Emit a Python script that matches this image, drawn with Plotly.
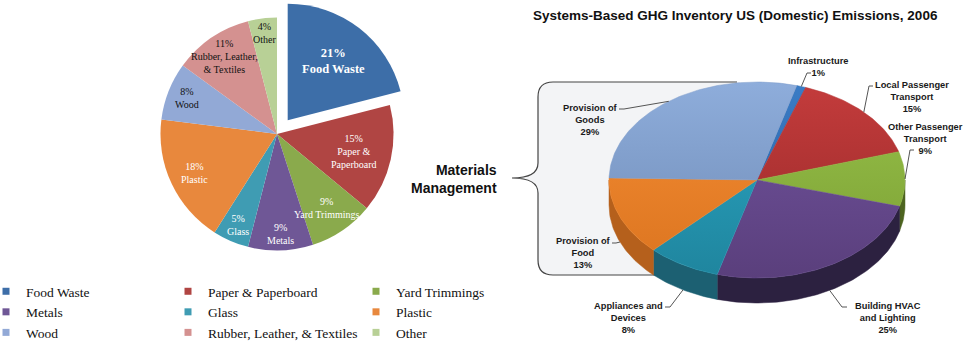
import math
import plotly.graph_objects as go

W, H = 964, 341

# ---------------- data: left chart (MSW composition) ----------------
waste_labels = ["Food Waste", "Paper & Paperboard", "Yard Trimmings",
                "Metals", "Glass", "Plastic",
                "Wood", "Rubber, Leather, & Textiles", "Other"]
waste_pct = [21, 15, 9, 9, 5, 18, 8, 11, 4]
waste_inner_text = ["Food Waste", "Paper &<br>Paperboard", "Yard Trimmings",
                    "Metals", "Glass", "Plastic",
                    "Wood", "Rubber, Leather,<br>& Textiles", "Other"]

# ---------------- data: right chart (GHG inventory) ----------------
ghg_labels = ["Infrastructure", "Local Passenger Transport", "Other Passenger Transport",
              "Building HVAC and Lighting", "Appliances and Devices",
              "Provision of Food", "Provision of Goods"]
ghg_pct = [1, 15, 9, 25, 8, 13, 29]
ghg_text = ["Infrastructure", "Local Passenger<br>Transport", "Other Passenger<br>Transport",
            "Building HVAC<br>and Lighting", "Appliances and<br>Devices",
            "Provision of<br>Food", "Provision of<br>Goods"]

# ---------------- styles ----------------
waste_colors = ["#3d6ea8", "#b04543", "#8aaa4c", "#6f5796", "#3f9cb3",
                "#e8883d", "#92a9d6", "#d49190", "#b8d096"]
waste_text_colors = ["white", "white", "white", "white", "white", "white",
                     "#111111", "#111111", "#111111"]
waste_label_rfrac = [0.64, 0.68, 0.77, 0.86, 0.85, 0.78, 0.83, 0.80, 0.87]

ghg_top_colors = ["#2f6db5", "#b33232", "#8cb43e", "#674a8e", "#2598b4", "#ef8227", "#7f9dcb"]
ghg_top_light = ["#3a7cc6", "#c43c3c", "#98c24a", "#7254a0", "#2ba7c4", "#f58d34", "#8eaddb"]
ghg_top_dark = ["#275e9e", "#962828", "#7a9e33", "#5a3f7c", "#1f859e", "#db741f", "#6e8ab5"]
ghg_side_colors = ["#1d4576", "#6e1d1d", "#4d6420", "#2c2140", "#1c6072", "#b5601c", "#4d6590"]
ghg_label_pos = [(818, 67), (912, 97), (925, 139), (888, 318), (628, 318), (583, 253), (590, 120)]
ghg_leader_stub = [((811, 73), (807, 73)), ((873, 86), (869, 86)), ((914, 150), (910, 150)),
                   ((847, 307), (842, 307)), ((665, 307), (670, 307)),
                   ((612, 243), (616, 243)), ((619, 109), (624, 109))]

SERIF = "Liberation Serif, Times New Roman, serif"
SANS = "Liberation Sans, Arial, sans-serif"

fig = go.Figure()

# ---------------- left pie ----------------
PIE_DOM_X = [143 / W, 411 / W]
PIE_DOM_Y = [73 / H, 1.0]
PULL = 0.15
pulls = [PULL] + [0] * (len(waste_pct) - 1)

fig.add_trace(go.Pie(
    labels=waste_labels, values=waste_pct, sort=False, direction="clockwise",
    rotation=0, pull=pulls, textinfo="none", showlegend=False,
    marker=dict(colors=waste_colors, line=dict(width=0)),
    domain=dict(x=PIE_DOM_X, y=PIE_DOM_Y), hoverinfo="label+percent",
))

cxp = (PIE_DOM_X[0] + PIE_DOM_X[1]) / 2 * W
cyp = H - (PIE_DOM_Y[0] + PIE_DOM_Y[1]) / 2 * H
Rmax = min((PIE_DOM_X[1] - PIE_DOM_X[0]) * W, (PIE_DOM_Y[1] - PIE_DOM_Y[0]) * H) / 2
rp = Rmax / (1 + PULL)

annotations = []
total = sum(waste_pct)
cum = 0
for i, v in enumerate(waste_pct):
    mid = (cum + v / 2) / total * 2 * math.pi
    cum += v
    ox = pulls[i] * rp * math.sin(mid)
    oy = -pulls[i] * rp * math.cos(mid)
    lx = cxp + ox + waste_label_rfrac[i] * rp * math.sin(mid)
    ly = cyp + oy - waste_label_rfrac[i] * rp * math.cos(mid)
    if i == 0:
        txt = f"<b>{v}%<br>{waste_inner_text[i]}</b>"
        fs = 12.5
    else:
        txt = f"{v}%<br>{waste_inner_text[i]}"
        fs = 10
    annotations.append(dict(
        x=lx / W, y=1 - ly / H, xref="paper", yref="paper", text=txt, showarrow=False,
        xanchor="center", yanchor="middle", align="center",
        font=dict(family=SERIF, size=fs, color=waste_text_colors[i]),
    ))

# legend entries (three column legends, row-wise order)
for i, (lab, col) in enumerate(zip(waste_labels, waste_colors)):
    fig.add_trace(go.Scatter(
        x=[None], y=[None], mode="markers", name=lab,
        marker=dict(symbol="square", size=7, color=col),
        legend=["legend", "legend2", "legend3"][i % 3], showlegend=True, hoverinfo="skip",
    ))

# ---------------- right 3D pie (drawn on pixel-unit axes) ----------------
CX, CY, RX, RY, DEPTH, START = 757, 180, 148, 98, 25, 15.6


def ell(t_deg, dy=0.0):
    t = math.radians(t_deg)
    return CX + RX * math.sin(t), CY - RY * math.cos(t) + dy


gtotal = sum(ghg_pct)
angles = []
a = START
for v in ghg_pct:
    b = a + v / gtotal * 360.0
    angles.append((a, b))
    a = b

# side walls (front half only)
for i, (a, b) in enumerate(angles):
    lo, hi = max(a, 90.0), min(b, 270.0)
    if hi <= lo:
        continue
    n = max(2, int((hi - lo) / 1.0) + 1)
    ts = [lo + (hi - lo) * k / (n - 1) for k in range(n)]
    top = [ell(t) for t in ts]
    bot = [ell(t, DEPTH) for t in reversed(ts)]
    pts = top + bot + [top[0]]
    fig.add_trace(go.Scatter(
        x=[p[0] for p in pts], y=[p[1] for p in pts], mode="lines", fill="toself",
        fillcolor=ghg_side_colors[i], line=dict(color=ghg_side_colors[i], width=0.5),
        showlegend=False, hoverinfo="skip",
    ))

# top faces
for i, (a, b) in enumerate(angles):
    n = max(2, int((b - a) / 1.0) + 1)
    ts = [a + (b - a) * k / (n - 1) for k in range(n)]
    arc = [ell(t) for t in ts]
    pts = [(CX, CY)] + arc + [(CX, CY)]
    fig.add_trace(go.Scatter(
        x=[p[0] for p in pts], y=[p[1] for p in pts], mode="lines", fill="toself",
        fillcolor=ghg_top_colors[i],
        fillgradient=dict(type="vertical", start=CY - RY, stop=CY + RY,
                          colorscale=[[0, ghg_top_light[i]], [1, ghg_top_dark[i]]]),
        line=dict(color=ghg_top_colors[i], width=0.5),
        name=ghg_labels[i], showlegend=False,
        hovertemplate=f"{ghg_labels[i]}: {ghg_pct[i]}%<extra></extra>",
    ))

shapes = []
# bracket region (behind the pie)
brace = ("M 737,82 L 553,82 Q 538,82 538,97 L 538,163 Q 538,178 512,178 "
         "Q 538,178 538,193 L 538,260 Q 538,275 553,275 L 655,275")
shapes.append(dict(type="path", path=brace + " Z", xref="x", yref="y", layer="below",
                   fillcolor="#f3f4f6", line=dict(width=0)))
shapes.append(dict(type="path", path=brace, xref="x", yref="y", layer="below",
                   line=dict(color="#444444", width=1.2)))

# labels and leader lines
for i, (a, b) in enumerate(angles):
    mid = (a + b) / 2
    dy = DEPTH if 90 < (mid % 360) < 270 else 0
    px, py = ell(mid, dy)
    (sx, sy), (bx, by) = ghg_leader_stub[i]
    shapes.append(dict(type="path", xref="x", yref="y",
                       path=f"M {sx},{sy} L {bx},{by} L {px:.1f},{py:.1f}",
                       line=dict(color="#555555", width=1)))
    lx, ly = ghg_label_pos[i]
    annotations.append(dict(
        x=lx, y=ly, xref="x", yref="y", showarrow=False, xanchor="center", yanchor="middle",
        align="center", text=f"<b>{ghg_text[i]}<br>{ghg_pct[i]}%</b>",
        font=dict(family=SANS, size=9.3, color="#1a1a1a"),
    ))

annotations.append(dict(
    x=735, y=15, xref="x", yref="y", showarrow=False, xanchor="center", yanchor="middle",
    text="<b>Systems-Based GHG Inventory US (Domestic) Emissions, 2006</b>",
    font=dict(family=SANS, size=13.5, color="#111111"),
))
annotations.append(dict(
    x=499, y=179, xref="x", yref="y", showarrow=False, xanchor="right", yanchor="middle",
    align="right", text="<b>Materials<br>Management</b>",
    font=dict(family=SANS, size=14, color="#111111"),
))

leg_common = dict(yanchor="top", xanchor="left", bgcolor="rgba(0,0,0,0)",
                  font=dict(family=SERIF, size=13.5, color="#111111"),
                  tracegroupgap=0, borderwidth=0)
LEG_Y = 1 - 276 / H

fig.update_layout(
    width=W, height=H, margin=dict(l=0, r=0, t=0, b=0, autoexpand=False),
    paper_bgcolor="white", plot_bgcolor="rgba(0,0,0,0)",
    xaxis=dict(domain=[440 / W, 1], range=[440, W], visible=False, fixedrange=True),
    yaxis=dict(domain=[0, 1], range=[H, 0], visible=False, fixedrange=True),
    shapes=shapes, annotations=annotations,
    legend=dict(x=-14 / W, y=LEG_Y, **leg_common),
    legend2=dict(x=168 / W, y=LEG_Y, **leg_common),
    legend3=dict(x=356 / W, y=LEG_Y, **leg_common),
)

fig.write_html(
    "out.html",
    config={"displayModeBar": False},
    post_script="document.body.style.margin='0';document.body.style.overflow='hidden';",
)
